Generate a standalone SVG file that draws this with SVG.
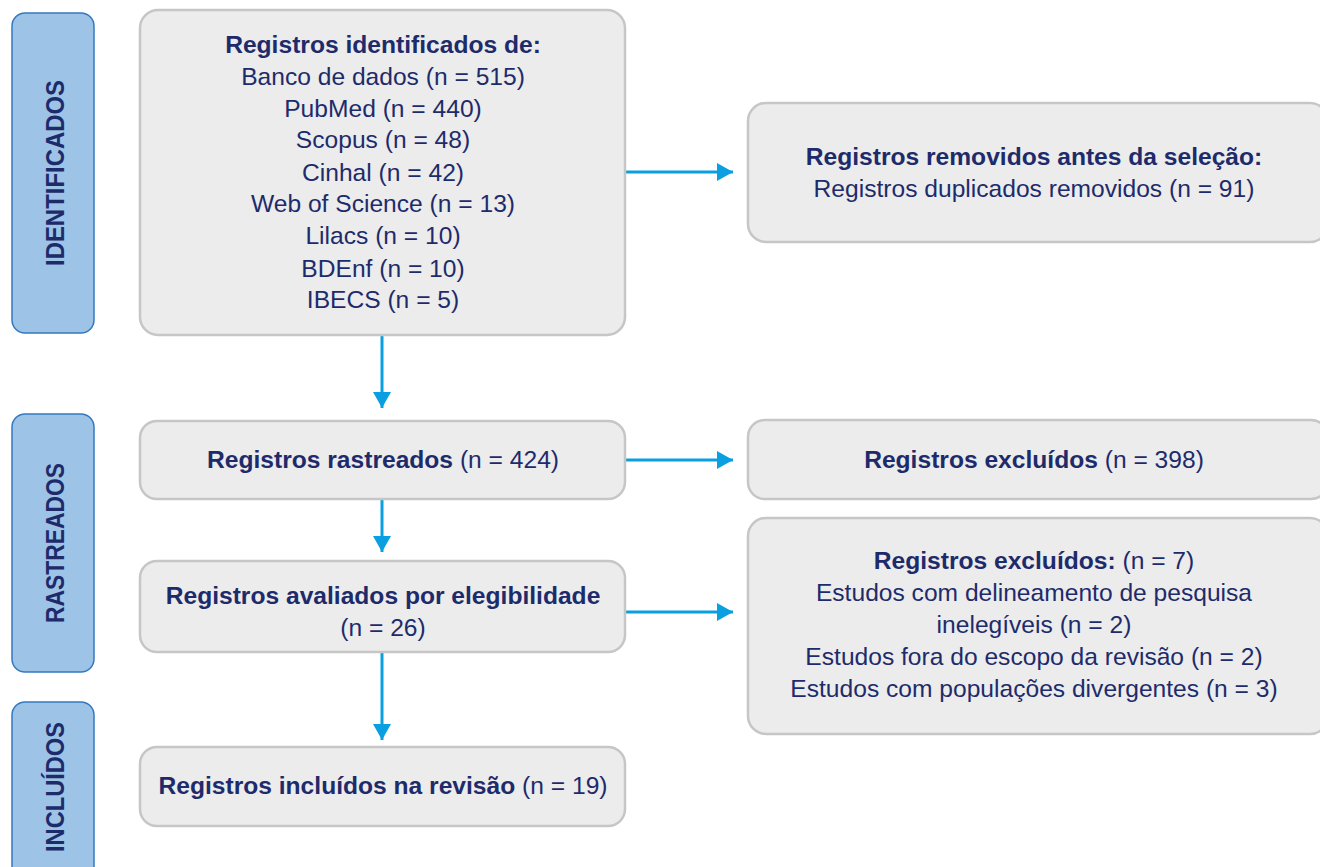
<svg xmlns="http://www.w3.org/2000/svg" width="1320" height="867" viewBox="0 0 1320 867">
<defs>
<style>
.lbl{fill:#9dc3e6;stroke:#3479bf;stroke-width:1.5}
.lt{font-family:"Liberation Sans",Arial,sans-serif;font-weight:bold;font-size:26px;fill:#1e2b6b;text-anchor:middle}
.box{fill:#ececec;stroke:#c6c6c6;stroke-width:2.5}
.t{font-family:"Liberation Sans",Arial,sans-serif;font-size:24.6px;fill:#1e2b6b;text-anchor:middle}
.b{font-weight:bold}
.conn{stroke:#0a9fe0;stroke-width:3;fill:none}
</style>
<marker id="ah" markerWidth="16" markerHeight="18" refX="16" refY="9" orient="auto" markerUnits="userSpaceOnUse">
<path d="M0,0 L16,9 L0,18 Z" fill="#0a9fe0"/>
</marker>
</defs>
<rect width="1320" height="867" fill="#ffffff"/>

<g id="label-identificados">
<rect class="lbl" x="12" y="13" width="82" height="320" rx="13"/>
<text class="lt" transform="translate(64,173) rotate(-90)" textLength="186" lengthAdjust="spacingAndGlyphs">IDENTIFICADOS</text>
</g>
<g id="label-rastreados">
<rect class="lbl" x="12" y="414" width="82" height="258" rx="13"/>
<text class="lt" transform="translate(64,543) rotate(-90)" textLength="160" lengthAdjust="spacingAndGlyphs">RASTREADOS</text>
</g>
<g id="label-incluidos">
<rect class="lbl" x="12" y="702" width="82" height="180" rx="13"/>
<text class="lt" transform="translate(64,787) rotate(-90)" textLength="130" lengthAdjust="spacingAndGlyphs">INCLUÍDOS</text>
</g>

<g id="connectors">
<line class="conn" x1="626" y1="172" x2="733" y2="172" marker-end="url(#ah)"/>
<line class="conn" x1="382" y1="336" x2="382" y2="408" marker-end="url(#ah)"/>
<line class="conn" x1="626" y1="460" x2="733" y2="460" marker-end="url(#ah)"/>
<line class="conn" x1="382" y1="499" x2="382" y2="552" marker-end="url(#ah)"/>
<line class="conn" x1="626" y1="612" x2="733" y2="612" marker-end="url(#ah)"/>
<line class="conn" x1="382" y1="652" x2="382" y2="740" marker-end="url(#ah)"/>
</g>

<g id="node-identificados">
<rect class="box" x="140" y="10" width="485" height="325" rx="18"/>
<text class="t b" x="383" y="53">Registros identificados de:</text>
<text class="t" x="383" y="85">Banco de dados (n = 515)</text>
<text class="t" x="383" y="117">PubMed (n = 440)</text>
<text class="t" x="383" y="148">Scopus (n = 48)</text>
<text class="t" x="383" y="181">Cinhal (n = 42)</text>
<text class="t" x="383" y="212">Web of Science (n = 13)</text>
<text class="t" x="383" y="244">Lilacs (n = 10)</text>
<text class="t" x="383" y="277">BDEnf (n = 10)</text>
<text class="t" x="383" y="308">IBECS (n = 5)</text>
</g>

<g id="node-removidos">
<rect class="box" x="748" y="103" width="580" height="139" rx="18"/>
<text class="t b" x="1034" y="165">Registros removidos antes da seleção:</text>
<text class="t" x="1034" y="197">Registros duplicados removidos (n = 91)</text>
</g>

<g id="node-rastreados">
<rect class="box" x="140" y="421" width="485" height="78" rx="17"/>
<text class="t" x="383" y="468"><tspan class="b">Registros rastreados</tspan> (n = 424)</text>
</g>

<g id="node-excluidos-398">
<rect class="box" x="748" y="420" width="580" height="79" rx="17"/>
<text class="t" x="1034" y="468"><tspan class="b">Registros excluídos</tspan> (n = 398)</text>
</g>

<g id="node-avaliados">
<rect class="box" x="140" y="561" width="485" height="91" rx="17"/>
<text class="t b" x="383" y="604">Registros avaliados por elegibilidade</text>
<text class="t" x="383" y="636">(n = 26)</text>
</g>

<g id="node-excluidos-7">
<rect class="box" x="748" y="518" width="580" height="216" rx="18"/>
<text class="t" x="1034" y="569"><tspan class="b">Registros excluídos:</tspan> (n = 7)</text>
<text class="t" x="1034" y="601">Estudos com delineamento de pesquisa</text>
<text class="t" x="1034" y="633">inelegíveis (n = 2)</text>
<text class="t" x="1034" y="665">Estudos fora do escopo da revisão (n = 2)</text>
<text class="t" x="1034" y="697">Estudos com populações divergentes (n = 3)</text>
</g>

<g id="node-incluidos">
<rect class="box" x="140" y="747" width="485" height="79" rx="17"/>
<text class="t" x="383" y="794"><tspan class="b">Registros incluídos na revisão</tspan> (n = 19)</text>
</g>
</svg>
